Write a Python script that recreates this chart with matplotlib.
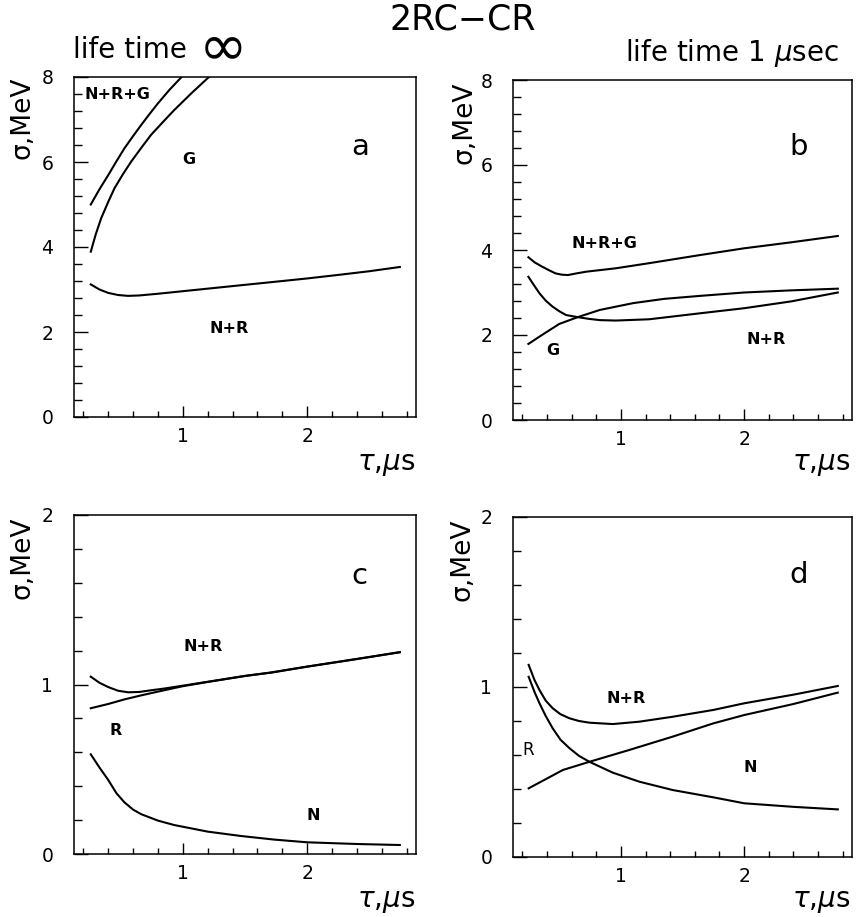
import matplotlib
matplotlib.use("Agg")
import matplotlib.pyplot as plt
from matplotlib.ticker import MultipleLocator, FixedLocator

# panel a : life time infinite, 2RC-CR
xa_nrg = [0.26, 0.33, 0.40, 0.465, 0.53, 0.60, 0.665, 0.73, 0.80, 0.89, 0.99]
ya_nrg = [5.00, 5.36, 5.69, 6.01, 6.32, 6.61, 6.87, 7.12, 7.38, 7.69, 8.00]
xa_g = [0.26, 0.30, 0.344, 0.40, 0.45, 0.52, 0.585, 0.665, 0.745, 0.84, 0.93, 1.07, 1.21]
ya_g = [3.89, 4.30, 4.68, 5.06, 5.38, 5.72, 6.01, 6.33, 6.64, 6.94, 7.22, 7.62, 8.00]
xa_nr = [0.26, 0.33, 0.40, 0.48, 0.56, 0.65, 0.80, 1.0, 1.2, 1.5, 1.735, 2.0, 2.27, 2.5, 2.745]
ya_nr = [3.12, 3.00, 2.92, 2.87, 2.85, 2.86, 2.90, 2.96, 3.02, 3.11, 3.18, 3.26, 3.35, 3.43, 3.53]

# panel b : life time 1 usec
xb_nrg = [0.25, 0.30, 0.36, 0.42, 0.47, 0.52, 0.57, 0.64, 0.72, 0.96, 1.23, 1.64, 2.0, 2.38, 2.76]
yb_nrg = [3.83, 3.71, 3.61, 3.52, 3.45, 3.42, 3.41, 3.45, 3.49, 3.57, 3.69, 3.88, 4.04, 4.18, 4.33]
xb_nr = [0.25, 0.30, 0.34, 0.39, 0.445, 0.50, 0.555, 0.65, 0.74, 0.83, 0.96, 1.23, 1.64, 2.0, 2.38, 2.76]
yb_nr = [3.37, 3.15, 2.98, 2.81, 2.67, 2.56, 2.47, 2.42, 2.38, 2.35, 2.34, 2.37, 2.51, 2.63, 2.79, 3.00]
xb_g = [0.25, 0.36, 0.50, 0.65, 0.83, 1.1, 1.35, 1.64, 2.0, 2.38, 2.76]
yb_g = [1.79, 2.00, 2.26, 2.42, 2.59, 2.75, 2.85, 2.92, 3.00, 3.05, 3.09]

# panel c
xc_nr = [0.26, 0.33, 0.40, 0.48, 0.56, 0.65, 0.745, 0.85, 1.0, 1.2, 1.5, 1.71, 2.0, 2.4, 2.745]
yc_nr = [1.046, 1.01, 0.985, 0.963, 0.954, 0.956, 0.966, 0.976, 0.993, 1.016, 1.051, 1.071, 1.106, 1.151, 1.191]
xc_r = [0.26, 0.40, 0.53, 0.66, 0.80, 1.0, 1.2, 1.5, 1.71, 2.0, 2.4, 2.745]
yc_r = [0.86, 0.885, 0.912, 0.935, 0.958, 0.99, 1.015, 1.05, 1.07, 1.105, 1.15, 1.19]
xc_n = [0.26, 0.33, 0.40, 0.465, 0.53, 0.60, 0.665, 0.80, 0.93, 1.2, 1.47, 1.735, 2.0, 2.4, 2.745]
yc_n = [0.588, 0.51, 0.437, 0.36, 0.305, 0.262, 0.235, 0.197, 0.171, 0.132, 0.106, 0.085, 0.069, 0.059, 0.053]

# panel d
xd_nr = [0.252, 0.30, 0.34, 0.39, 0.447, 0.51, 0.583, 0.66, 0.745, 0.935, 1.15, 1.42, 1.75, 2.0, 2.4, 2.76]
yd_nr = [1.13, 1.04, 0.982, 0.92, 0.875, 0.84, 0.816, 0.80, 0.79, 0.782, 0.796, 0.825, 0.865, 0.904, 0.955, 1.006]
xd_n = [0.252, 0.30, 0.34, 0.39, 0.447, 0.51, 0.583, 0.66, 0.745, 0.935, 1.15, 1.42, 1.75, 2.0, 2.4, 2.76]
yd_n = [1.06, 0.97, 0.904, 0.83, 0.757, 0.69, 0.64, 0.595, 0.56, 0.496, 0.443, 0.394, 0.351, 0.316, 0.295, 0.28]
xd_r = [0.252, 0.53, 0.745, 1.07, 1.42, 1.75, 2.0, 2.4, 2.76]
yd_r = [0.404, 0.512, 0.56, 0.63, 0.708, 0.786, 0.835, 0.90, 0.967]

W, H = 864, 917
fig = plt.figure(figsize=(W/100, H/100), dpi=100)

def box(l, t, r, b):
    return [l/W, 1-b/H, (r-l)/W, (b-t)/H]

def setup(ax, ymax, ymaj, ymin):
    ax.set_xlim(0.125, 2.875)
    ax.set_ylim(0, ymax)
    ax.xaxis.set_major_locator(FixedLocator([1, 2]))
    ax.xaxis.set_minor_locator(MultipleLocator(0.2))
    ax.yaxis.set_major_locator(MultipleLocator(ymaj))
    ax.yaxis.set_minor_locator(MultipleLocator(ymin))
    ax.tick_params(axis='x', which='major', direction='in', length=8, width=1, pad=7, labelsize=13.5)
    ax.tick_params(axis='x', which='minor', direction='in', length=4, width=1)
    ax.tick_params(axis='y', which='major', direction='in', length=10, width=1, pad=15, labelsize=13.5)
    ax.tick_params(axis='y', which='minor', direction='in', length=5.5, width=1)
    for s in ax.spines.values():
        s.set_linewidth(1.1)

lw = 1.5
bold = dict(fontsize=11.5, fontweight='bold', ha='center', va='center')
big = dict(fontsize=21, ha='center', va='center')

ax = fig.add_axes(box(74, 77, 416, 417))
setup(ax, 8, 2, 0.4)
ax.plot(xa_nrg, ya_nrg, 'k', lw=lw)
ax.plot(xa_g, ya_g, 'k', lw=lw)
ax.plot(xa_nr, ya_nr, 'k', lw=lw)
ax.text(0.21, 7.58, "N+R+G", fontsize=11.5, fontweight='bold', ha='left', va='center')
ax.text(1.05, 6.05, "G", **bold)
ax.text(1.37, 2.09, "N+R", **bold)
ax.text(2.43, 6.35, "a", **big)

ax = fig.add_axes(box(513, 80, 852, 420))
setup(ax, 8, 2, 0.4)
ax.plot(xb_nrg, yb_nrg, 'k', lw=lw)
ax.plot(xb_nr, yb_nr, 'k', lw=lw)
ax.plot(xb_g, yb_g, 'k', lw=lw)
ax.text(0.87, 4.16, "N+R+G", **bold)
ax.text(0.445, 1.63, "G", **bold)
ax.text(2.18, 1.9, "N+R", **bold)
ax.text(2.44, 6.43, "b", **big)

ax = fig.add_axes(box(74, 515, 416, 854))
setup(ax, 2, 1, 0.2)
ax.plot(xc_nr, yc_nr, 'k', lw=lw)
ax.plot(xc_r, yc_r, 'k', lw=lw)
ax.plot(xc_n, yc_n, 'k', lw=lw)
ax.text(1.165, 1.225, "N+R", **bold)
ax.text(0.457, 0.731, "R", **bold)
ax.text(2.05, 0.225, "N", **bold)
ax.text(2.42, 1.64, "c", **big)

ax = fig.add_axes(box(513, 517, 852, 857))
setup(ax, 2, 1, 0.2)
ax.plot(xd_nr, yd_nr, 'k', lw=lw)
ax.plot(xd_n, yd_n, 'k', lw=lw)
ax.plot(xd_r, yd_r, 'k', lw=lw)
ax.text(1.04, 0.93, "N+R", **bold)
ax.text(0.245, 0.63, "R", fontsize=12, ha='center', va='center')
ax.text(2.05, 0.526, "N", **bold)
ax.text(2.44, 1.66, "d", **big)

# titles and axis labels
fig.text(463/W, 1-20/H, "2RC\u2212CR", fontsize=25, ha='center', va='center')
fig.text(73/W, 1-58/H, "life time", fontsize=20, ha='left', va='baseline')
fig.text(223/W, 1-48/H, "\u221e", fontsize=42, ha='center', va='center')
fig.text(839/W, 1-61/H, r"life time 1 $\mu$sec", fontsize=20, ha='right', va='baseline')

for xl, yt in [(22, 77), (464, 82), (22, 517), (462, 519)]:
    fig.text(xl/W, 1-yt/H, "\u03c3,MeV", fontsize=19, rotation=90, ha='center', va='top')
for xr, yc in [(415, 464), (850, 464), (415, 901), (850, 901)]:
    fig.text(xr/W, 1-yc/H, r"$\tau$,$\mu$s", fontsize=20, ha='right', va='center')

fig.savefig("out.png", dpi=100)
